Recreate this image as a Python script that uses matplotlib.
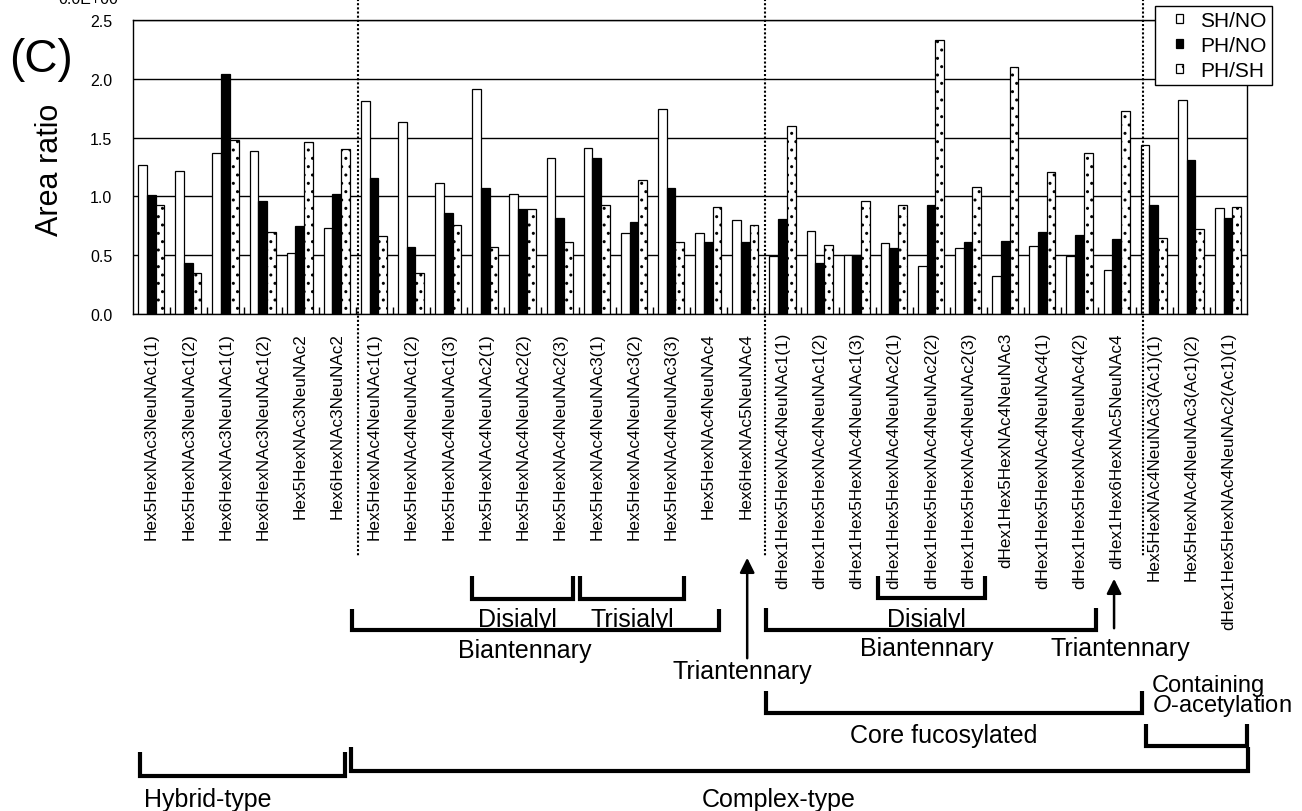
import numpy as np
import matplotlib
matplotlib.use("Agg")
from matplotlib import pyplot as plt
from matplotlib import transforms
from matplotlib.patches import Rectangle
from matplotlib.legend_handler import HandlerPatch

plt.rcParams['font.family'] = ['Liberation Sans', 'DejaVu Sans']
plt.rcParams['mathtext.fontset'] = 'custom'
plt.rcParams['mathtext.rm'] = 'Liberation Sans'
plt.rcParams['mathtext.it'] = 'Liberation Sans:italic'
plt.rcParams['hatch.linewidth'] = 1.0

names = [
    "Hex5HexNAc3NeuNAc1(1)", "Hex5HexNAc3NeuNAc1(2)", "Hex6HexNAc3NeuNAc1(1)",
    "Hex6HexNAc3NeuNAc1(2)", "Hex5HexNAc3NeuNAc2", "Hex6HexNAc3NeuNAc2",
    "Hex5HexNAc4NeuNAc1(1)", "Hex5HexNAc4NeuNAc1(2)", "Hex5HexNAc4NeuNAc1(3)",
    "Hex5HexNAc4NeuNAc2(1)", "Hex5HexNAc4NeuNAc2(2)", "Hex5HexNAc4NeuNAc2(3)",
    "Hex5HexNAc4NeuNAc3(1)", "Hex5HexNAc4NeuNAc3(2)", "Hex5HexNAc4NeuNAc3(3)",
    "Hex5HexNAc4NeuNAc4", "Hex6HexNAc5NeuNAc4",
    "dHex1Hex5HexNAc4NeuNAc1(1)", "dHex1Hex5HexNAc4NeuNAc1(2)", "dHex1Hex5HexNAc4NeuNAc1(3)",
    "dHex1Hex5HexNAc4NeuNAc2(1)", "dHex1Hex5HexNAc4NeuNAc2(2)", "dHex1Hex5HexNAc4NeuNAc2(3)",
    "dHex1Hex5HexNAc4NeuNAc3", "dHex1Hex5HexNAc4NeuNAc4(1)", "dHex1Hex5HexNAc4NeuNAc4(2)",
    "dHex1Hex6HexNAc5NeuNAc4",
    "Hex5HexNAc4NeuNAc3(Ac1)(1)", "Hex5HexNAc4NeuNAc3(Ac1)(2)", "dHex1Hex5HexNAc4NeuNAc2(Ac1)(1)",
]
sh_no = [1.27, 1.22, 1.37, 1.39, 0.52, 0.73, 1.81, 1.63, 1.11, 1.91,
         1.02, 1.33, 1.41, 0.69, 1.74, 0.69, 0.80, 0.49, 0.71, 0.50,
         0.60, 0.41, 0.56, 0.32, 0.58, 0.49, 0.37, 1.44, 1.82, 0.90]
ph_no = [1.01, 0.43, 2.04, 0.96, 0.75, 1.02, 1.16, 0.57, 0.86, 1.07,
         0.89, 0.82, 1.33, 0.78, 1.07, 0.61, 0.61, 0.81, 0.43, 0.50,
         0.56, 0.93, 0.61, 0.62, 0.70, 0.67, 0.64, 0.93, 1.31, 0.82]
ph_sh = [0.93, 0.35, 1.48, 0.70, 1.46, 1.40, 0.66, 0.35, 0.76, 0.57,
         0.89, 0.61, 0.93, 1.14, 0.61, 0.91, 0.76, 1.60, 0.59, 0.96,
         0.93, 2.33, 1.08, 2.10, 1.21, 1.37, 1.73, 0.65, 0.72, 0.91]
series_labels = ["SH/NO", "PH/NO", "PH/SH"]

W, H = 1302, 812


def fy(py):
    # pixel row from top -> figure fraction
    return 1 - py / H


fig = plt.figure(figsize=(W / 100, H / 100), dpi=100)
ax = fig.add_axes([133 / W, fy(315), 1114 / W, 294 / H])

x = np.arange(len(names))
w = 0.235
b1 = ax.bar(x - w - 0.01, sh_no, w, color='white', edgecolor='black', lw=0.9)
b2 = ax.bar(x - 0.01, ph_no, w, color='black', edgecolor='black', lw=0.9)
b3 = ax.bar(x + w - 0.01, ph_sh, w, color='white', edgecolor='black', lw=0.9, hatch='..')

ax.set_xlim(-0.5, len(names) - 0.5)
ax.set_ylim(0, 2.5)
ax.set_yticks(np.arange(0, 2.51, 0.5))
ax.set_yticklabels(["%.1f" % v for v in np.arange(0, 2.51, 0.5)], fontsize=11.5)
ax.tick_params(axis='y', length=0, pad=15)
ax.set_xticks(x)
ax.set_xticklabels(names, rotation=90, fontsize=12.3)
ax.tick_params(axis='x', which='major', length=0, pad=13)
ax.set_xticks(np.arange(0.5, len(names) - 0.5, 1), minor=True)
ax.tick_params(axis='x', which='minor', direction='in', length=5, width=1)
ax.set_axisbelow(True)
ax.yaxis.grid(True, color='black', lw=1)
for s in ax.spines.values():
    s.set_linewidth(1)


# legend with small square keys
def small_box(legend, orig_handle, xdescent, ydescent, width, height, fontsize):
    bw, bh = 5.0, 6.5
    return Rectangle((-xdescent + width - bw - 6, -ydescent + (height - bh) / 2), bw, bh)


leg = ax.legend([b1[0], b2[0], b3[0]], series_labels, loc='upper right', fontsize=15,
                bbox_to_anchor=(1272 / W, fy(7)), bbox_transform=fig.transFigure,
                borderaxespad=0, frameon=True, fancybox=False, framealpha=1,
                edgecolor='black', handlelength=1.5, handleheight=0.7,
                handletextpad=0.45, labelspacing=0.28, borderpad=0.25,
                handler_map={Rectangle: HandlerPatch(patch_func=small_box)})
leg.get_frame().set_linewidth(1)
leg.set_zorder(5)

blend = transforms.blended_transform_factory(ax.transData, fig.transFigure)

# dotted separators
for xs in [5.56, 16.52, 26.7]:
    ax.plot([xs, xs], [1.0, fy(558)], transform=blend, clip_on=False,
            color='black', lw=1.5, ls=(0, (1, 1)))


def bracket(x0, x1, ytop, ybot):
    ax.plot([x0, x0, x1, x1], [fy(ytop), fy(ybot), fy(ybot), fy(ytop)],
            transform=blend, clip_on=False, color='black', lw=3,
            solid_joinstyle='miter', solid_capstyle='butt')


def label(xc, yc, s, ha='center', size=18, **kw):
    ax.text(xc, fy(yc), s, transform=blend, ha=ha, va='center', fontsize=size, **kw)


bracket(8.63, 11.35, 577, 600)
bracket(11.54, 14.34, 577, 600)
label(9.84, 620, "Disialyl")
label(12.94, 620, "Trisialyl")
bracket(5.40, 15.28, 610, 631)
label(10.06, 651, "Biantennary")

ax.annotate("", xy=(16.04, fy(556)), xytext=(16.04, fy(662)),
            xycoords=blend, textcoords=blend,
            arrowprops=dict(arrowstyle='-|>', lw=1.8, color='black', mutation_scale=22))
label(15.9, 672, "Triantennary")

bracket(19.56, 22.45, 577, 599)
label(20.88, 620, "Disialyl")
bracket(16.55, 25.44, 609, 631)
label(20.88, 649, "Biantennary")
ax.annotate("", xy=(25.92, fy(577)), xytext=(25.92, fy(632)),
            xycoords=blend, textcoords=blend,
            arrowprops=dict(arrowstyle='-|>', lw=1.8, color='black', mutation_scale=22))
label(26.1, 649, "Triantennary")

bracket(16.55, 26.67, 692, 714)
label(21.32, 736, "Core fucosylated")
label(26.94, 697, "Containing\n$\\mathit{O}$-acetylation", ha='left', size=17,
      linespacing=0.8)
bracket(26.78, 29.5, 725, 747)

bracket(-0.31, 5.21, 753, 777)
bracket(5.37, 29.53, 748, 772)
label(1.5, 800, "Hybrid-type")
label(16.9, 800, "Complex-type")

fig.text(50 / W, fy(170), "Area ratio", rotation=90, ha='center', va='center', fontsize=22)
fig.text(41 / W, fy(60), "(C)", ha='center', va='center', fontsize=33)
fig.text(88 / W, fy(4), "0.0E+00", ha='center', va='baseline', fontsize=11.5)

fig.savefig("out.png", dpi=100)
